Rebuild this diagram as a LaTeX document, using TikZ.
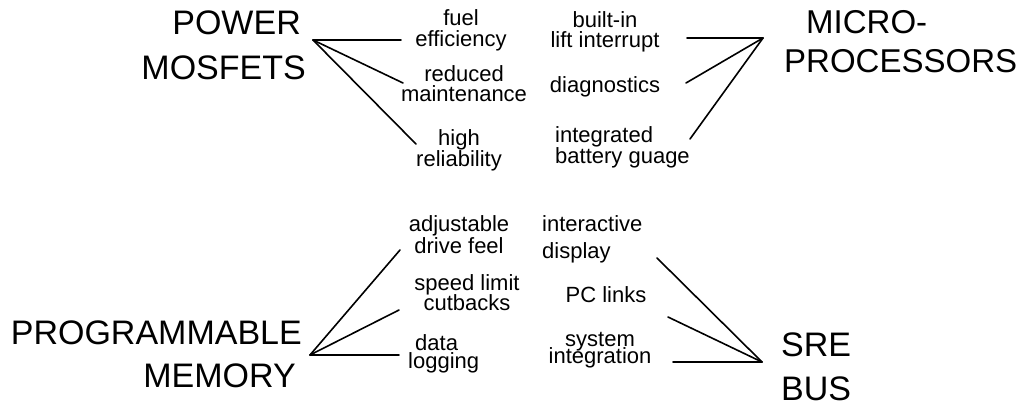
\documentclass[tikz,border=0pt]{standalone}
\usepackage{fontspec}
\setmainfont{Liberation Sans}
\begin{document}
\begin{tikzpicture}[x=1pt,y=-1pt,
  big/.style={font=\fontsize{34}{44}\selectfont, inner sep=0pt},
  small/.style={font=\fontsize{22}{21}\selectfont, inner sep=0pt, align=center},
  link/.style={line width=1.6pt, line cap=round}]
\useasboundingbox (0,0) rectangle (1025,407);

% main components (anchored on the baseline of their last line)
\node[big, align=right, anchor=base east] (mos)  at (306,79)  {POWER\hspace*{5pt}\\[1pt]MOSFETS};
\node[big, font=\fontsize{33}{44}\selectfont, align=left, anchor=base west] (mpu) at (784,72) {\hspace*{22pt}MICRO-\\[-5.5pt]PROCESSORS};
\node[big, align=right, anchor=base east] (mem)  at (302,387) {PROGRAMMABLE\\[-1pt]MEMORY\hspace*{6pt}};
\node[big, align=left,  anchor=base west] (bus)  at (781,400) {SRE\\[-0.5pt]BUS};

% benefits of the power MOSFETs
\node[small, anchor=base] (fuel) at (461,46)  {fuel\\efficiency};
\node[small, anchor=base] (maint) at (464,101) {reduced\\[-1pt]maintenance};
\node[small, anchor=base] (rel) at (459,166)  {high\\reliability};

% benefits of the microprocessors
\node[small, anchor=base] (lift) at (605,47)  {built-in\\[-1pt]lift interrupt};
\node[small, anchor=base] (diag) at (605,92)  {diagnostics};
\node[small, align=left, anchor=base west] (gauge) at (555,163) {integrated\\battery guage};

% benefits of the programmable memory
\node[small, anchor=base] (feel) at (459,253)  {adjustable\\[0.5pt]drive feel};
\node[small, anchor=base] (speed) at (467,310) {speed limit\\[-1pt]cutbacks};
\node[small, align=left, anchor=base west] (log) at (408,368) {\hspace*{7pt}data\\[-3pt]logging};

% benefits of the SRE bus
\node[small, align=left, anchor=base west] (disp) at (542,258) {interactive\\[6pt]display};
\node[small, anchor=base] (pc) at (606,302)    {PC links};
\node[small, anchor=base] (sys) at (600,363.5) {system\\[-4pt]integration};

% hubs and connector ends
\coordinate (hmos) at (313,40);
\coordinate (hmpu) at (763,38);
\coordinate (hmem) at (310,355);
\coordinate (hbus) at (762,362);

\coordinate (efuel)  at (401,40);
\coordinate (emaint) at (403,83);
\coordinate (erel)   at (416,144);
\coordinate (elift)  at (687,38);
\coordinate (ediag)  at (686,83);
\coordinate (egauge) at (690,139);
\coordinate (efeel)  at (400,250);
\coordinate (espeed) at (399,310);
\coordinate (elog)   at (399,355);
\coordinate (edisp)  at (657,258);
\coordinate (epc)    at (668,317);
\coordinate (esys)   at (673,362);

\draw[link] (hmos) -- (efuel);
\draw[link] (hmos) -- (emaint);
\draw[link] (hmos) -- (erel);
\draw[link] (hmpu) -- (elift);
\draw[link] (hmpu) -- (ediag);
\draw[link] (hmpu) -- (egauge);
\draw[link] (hmem) -- (efeel);
\draw[link] (hmem) -- (espeed);
\draw[link] (hmem) -- (elog);
\draw[link] (hbus) -- (edisp);
\draw[link] (hbus) -- (epc);
\draw[link] (hbus) -- (esys);
\end{tikzpicture}
\end{document}
